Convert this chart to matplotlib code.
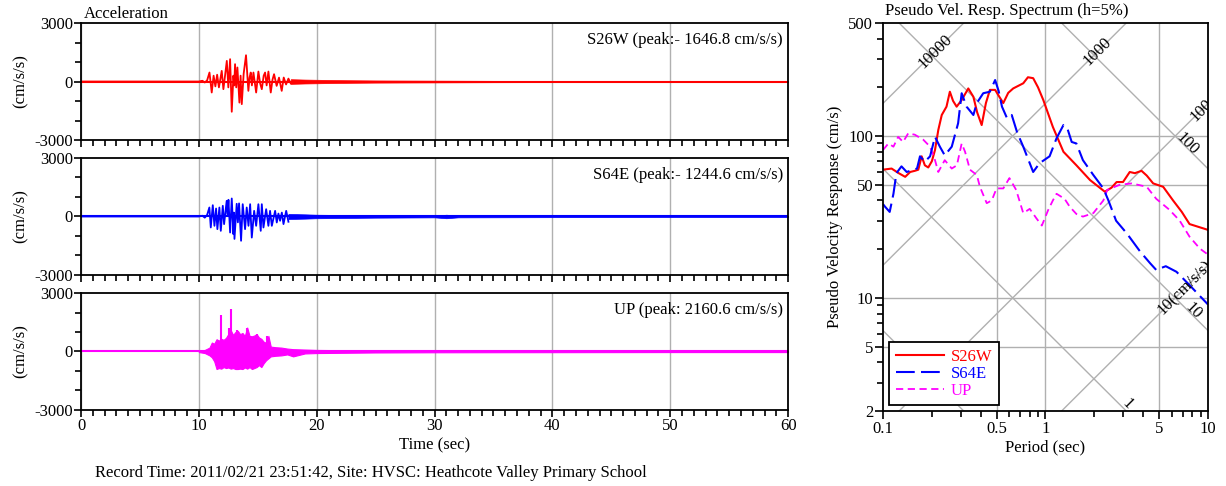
import numpy as np
import matplotlib.pyplot as plt
from matplotlib.ticker import FixedLocator, NullFormatter, LogLocator
from matplotlib.lines import Line2D

plt.rcParams['font.family'] = ['Liberation Serif', 'DejaVu Serif']
plt.rcParams['font.size'] = 12
plt.rcParams['axes.unicode_minus'] = False

# acceleration traces: oscillation peaks (sec, cm/s/s)
s26w_t = [0, 10.0, 10.3, 10.5, 10.7, 10.9, 11.09, 11.25, 11.4, 11.55, 11.7, 11.94, 12.08, 12.2,
          12.37, 12.5, 12.65, 12.79, 12.93, 13.0, 13.07, 13.17, 13.27, 13.44, 13.54, 13.64, 13.8,
          14.0, 14.2, 14.3, 14.4, 14.5, 14.63, 14.86, 15.05, 15.2, 15.34, 15.5, 15.62, 15.75,
          15.9, 16.1, 16.25, 16.38, 16.6, 16.8, 17.03, 17.2, 17.4, 17.6, 17.8]
s26w_a = [0, 0, 40, -50, 60, 462, -564, 300, -250, 350, -300, 547, -393, 200,
          1060, -300, 1146, -1550, 300, -200, 890, -300, 720, -1080, 300, -1160, 400,
          1350, -479, 200, 462, -200, 462, -564, 513, -100, -393, 300, 462, -200,
          513, -564, 100, 376, -222, 200, -479, 205, -150, 150, -100]
s26w_coda_t = [17.8, 19, 20, 22, 25, 30, 35, 40, 50, 60]
s26w_coda_a = [120, 100, 90, 70, 55, 45, 35, 30, 25, 25]

s64e_t = [0, 10.0, 10.3, 10.5, 10.7, 10.89, 11.01, 11.18, 11.32, 11.46, 11.57, 11.74, 11.86, 12.03,
          12.14, 12.36, 12.44, 12.51, 12.65, 12.79, 12.93, 12.97, 13.02, 13.21, 13.31, 13.41,
          13.58, 13.72, 13.92, 14.06, 14.21, 14.35, 14.49, 14.69, 14.86, 15.05, 15.25, 15.34,
          15.48, 15.71, 15.9, 16.04, 16.19, 16.47, 16.61, 16.75, 16.89, 17.04, 17.18, 17.41, 17.6]
s64e_a = [0, 0, 40, -60, 80, 462, -564, 581, -479, 410, -650, 462, -735, 547,
          -393, 804, 100, 855, -821, 923, -906, 200, -1150, 650, -300, 670,
          -1245, 630, -650, 462, -479, 630, -1080, 290, -479, 630, -735, 630,
          -565, 375, -479, 290, -479, 290, -308, 150, -220, 200, -390, 290, -270]
s64e_coda_t = [17.6, 19, 20, 25, 30, 31, 32, 40, 50, 60]
s64e_coda_a = [130, 110, 90, 60, 45, 90, 45, 35, 30, 30]

# UP is dense high frequency: upper / lower envelope plus the largest spikes
up_t = [10.0, 10.5, 10.9, 11.1, 11.3, 11.5, 11.7, 11.9, 12.1, 12.3, 12.5, 12.7, 12.9, 13.1, 13.3,
        13.5, 13.7, 13.9, 14.1, 14.3, 14.5, 14.7, 14.9, 15.1, 15.3, 15.5, 15.7, 15.9, 16.1, 16.5,
        17.0, 17.5, 18.0, 19.0, 20.0, 25, 30, 40, 50, 60]
up_hi = [30, 80, 200, 460, 400, 630, 560, 650, 600, 700, 900, 1100, 850, 1000, 1060,
         890, 950, 800, 1230, 800, 780, 820, 890, 720, 650, 500, 450, 800, 250, 220,
         200, 150, 120, 100, 80, 50, 40, 35, 30, 30]
up_lo = [-30, -80, -200, -300, -500, -900, -850, -880, -800, -850, -820, -880, -850, -900, -900,
         -880, -900, -820, -880, -800, -900, -850, -800, -700, -800, -600, -450, -350, -250, -220,
         -200, -150, -250, -100, -80, -50, -40, -35, -30, -30]
up_spike_t = [11.89, 12.55, 12.71, 13.2, 14.12, 14.95, 15.82, 18.02]
up_spike_a = [1860, 1200, 2160.6, 1100, 1230, 900, 800, -270]

# pseudo velocity response spectra (period sec, cm/s)
s26w_T = [0.1, 0.113, 0.125, 0.137, 0.147, 0.157, 0.165, 0.173, 0.181, 0.19, 0.2, 0.209, 0.219,
          0.23, 0.246, 0.258, 0.27, 0.284, 0.305, 0.335, 0.36, 0.38, 0.405, 0.43, 0.455, 0.49,
          0.52, 0.55, 0.59, 0.633, 0.73, 0.78, 0.84, 0.9, 0.97, 1.11, 1.29, 1.55, 1.88, 2.32,
          2.55, 2.74, 3.0, 3.3, 3.55, 3.9, 4.2, 4.6, 5.3, 6.1, 6.9, 7.7, 9.8, 10]
s26w_v = [62, 63, 59, 56, 60, 61, 62, 75, 66, 64, 70, 82, 109,
          135, 152, 188, 165, 152, 167, 197, 175, 140, 117, 160, 193, 193,
          175, 160, 185, 197, 212, 231, 228, 200, 167, 114, 80, 66, 53.5, 45.3,
          48, 52, 52, 60, 59, 61, 57, 51, 48.6, 40, 34, 28.6, 26.5, 26.3]
s64e_T = [0.1, 0.103, 0.11, 0.116, 0.121, 0.13, 0.14, 0.154, 0.162, 0.169, 0.181, 0.195, 0.209,
          0.224, 0.24, 0.265, 0.29, 0.305, 0.327, 0.36, 0.378, 0.414, 0.455, 0.49, 0.515, 0.54,
          0.58, 0.62, 0.67, 0.73, 0.84, 0.92, 1.06, 1.17, 1.29, 1.37, 1.45, 1.55, 1.7, 1.97,
          2.27, 2.44, 2.72, 3.17, 3.83, 4.4, 4.8, 5.5, 6.4, 7.7, 9.8, 10]
s64e_v = [38, 36.6, 34, 44, 59, 65, 60, 62, 63, 75, 69.5, 75, 99,
          86, 76, 86, 120, 184, 152, 135, 160, 184, 188, 222, 190, 152,
          129, 135, 105, 86, 60, 68, 75, 97, 117, 110, 92, 90, 71, 57.5,
          47.5, 40, 30, 25, 19.3, 16.4, 14.9, 15.7, 14.5, 12, 9.3, 9.1]
up_T = [0.1, 0.108, 0.116, 0.124, 0.133, 0.143, 0.157, 0.177, 0.195, 0.209, 0.219, 0.24, 0.265,
        0.285, 0.305, 0.32, 0.343, 0.378, 0.395, 0.435, 0.467, 0.5, 0.55, 0.6, 0.66, 0.73,
        0.8, 0.88, 0.95, 1.04, 1.11, 1.17, 1.31, 1.41, 1.55, 1.7, 1.97, 2.27, 2.4, 2.86,
        3.4, 4.2, 4.8, 5.8, 6.7, 7.7, 8.9, 9.8, 10]
up_v = [82, 90, 86, 99, 92, 104, 102, 95, 86, 71, 60, 71, 63,
        66, 90, 80, 62, 57.5, 48.6, 38.5, 40, 47.5, 47.5, 55, 46.5, 33.4,
        35.5, 31, 28, 35, 40, 44, 41, 36.6, 33, 31.8, 33.4, 40, 46.5, 50,
        51, 48.6, 41, 35, 30, 23.9, 20.2, 18.8, 18.5]

RED, BLUE, MAG = '#ff0000', '#0000ff', '#ff00ff'
GRID = '#b0b0b0'

fig = plt.figure(figsize=(12.26, 4.86), dpi=100)
left, width, h = 0.0661, 0.5767, 0.2407
bottoms = [0.7119, 0.4342, 0.1564]
axs = [fig.add_axes([left, b, width, h]) for b in bottoms]

labels = ['S26W (peak:- 1646.8 cm/s/s)', 'S64E (peak:- 1244.6 cm/s/s)', 'UP (peak: 2160.6 cm/s/s)']

for i, ax in enumerate(axs):
    ax.set_xlim(0, 60)
    ax.set_ylim(-3000, 3000)
    ax.set_xticks(range(0, 61, 10))
    ax.xaxis.set_minor_locator(FixedLocator(range(0, 61)))
    ax.set_yticks([-3000, 0, 3000])
    ax.yaxis.set_minor_locator(FixedLocator([-2000, -1000, 1000, 2000]))
    ax.tick_params(which='major', direction='out', length=5, width=1.2, labelsize=12, pad=1)
    ax.tick_params(which='minor', direction='out', length=4, width=1.2)
    ax.grid(axis='x', color=GRID, lw=1)
    ax.set_axisbelow(True)
    for s in ax.spines.values():
        s.set_linewidth(1.3)
    ax.set_ylabel('(cm/s/s)', fontsize=12, labelpad=4)
    if i < 2:
        ax.set_xticklabels([])
    ax.text(0.993, 0.855, labels[i], transform=ax.transAxes, ha='right', va='center', fontsize=12)

# S26W
ax = axs[0]
ax.plot([0, 60], [0, 0], color=RED, lw=1.5)
ax.plot(s26w_t, s26w_a, color=RED, lw=1.3)
ax.fill_between(s26w_coda_t, -np.array(s26w_coda_a), s26w_coda_a, color=RED, lw=0.5)
ax.text(0.004, 1.01, 'Acceleration', transform=ax.transAxes, ha='left', va='bottom', fontsize=12)

# S64E
ax = axs[1]
ax.plot([0, 60], [0, 0], color=BLUE, lw=1.5)
ax.plot(s64e_t, s64e_a, color=BLUE, lw=1.3)
ax.fill_between(s64e_coda_t, -np.array(s64e_coda_a), s64e_coda_a, color=BLUE, lw=0.5)

# UP
ax = axs[2]
ax.plot([0, 60], [0, 0], color=MAG, lw=1.5)
ax.fill_between(up_t, up_lo, up_hi, color=MAG, lw=0.8)
ax.vlines(up_spike_t, 0, up_spike_a, color=MAG, lw=1.5)
ax.set_xlabel('Time (sec)', fontsize=12, labelpad=2)

fig.text(95 / 1226, 1 - 473 / 486, 'Record Time: 2011/02/21 23:51:42, Site: HVSC: Heathcote Valley Primary School',
         ha='left', va='center', fontsize=12)

# response spectrum
ax = fig.add_axes([0.7202, 0.1543, 0.2651, 0.7984])
ax.set_xscale('log')
ax.set_yscale('log')
ax.set_xlim(0.1, 10)
ax.set_ylim(2, 500)

for x in [0.5, 1, 5]:
    ax.axvline(x, color=GRID, lw=1, zorder=0)
for y in [5, 10, 50, 100]:
    ax.axhline(y, color=GRID, lw=1, zorder=0)

T = np.logspace(-1, 1, 50)
for A in [10, 100, 1000, 10000]:
    ax.plot(T, A * T / (2 * np.pi), color=GRID, lw=1, zorder=0)
for D in [0.1, 1, 10, 100]:
    ax.plot(T, 2 * np.pi * D / T, color=GRID, lw=1, zorder=0)

diag = [(0.209, 332, '10000', 45), (2.09, 332, '1000', 45), (9.1, 145, '100', 45),
        (7.4, 90, '100', -45), (7.2, 11.6, '10(cm/s/s)', 45), (8.1, 8.3, '10', -45),
        (3.2, 2.2, '1', -45)]
for x, y, s, r in diag:
    ax.text(x, y, s, rotation=r, ha='center', va='center', fontsize=12, clip_on=True,
            rotation_mode='anchor')

ax.plot(s26w_T, s26w_v, color=RED, lw=1.5)
ax.plot(up_T, up_v, color=MAG, lw=1.3, dashes=(4, 2.5))
ax.plot(s64e_T, s64e_v, color=BLUE, lw=1.5, dashes=(9, 3))

ax.set_xticks([0.1, 0.5, 1, 5, 10])
ax.set_xticklabels(['0.1', '0.5', '1', '5', '10'])
ax.set_yticks([2, 5, 10, 50, 100, 500])
ax.set_yticklabels(['2', '5', '10', '50', '100', '500'])
ax.xaxis.set_minor_locator(LogLocator(base=10, subs=np.arange(2, 10)))
ax.yaxis.set_minor_locator(LogLocator(base=10, subs=np.arange(2, 10)))
ax.xaxis.set_minor_formatter(NullFormatter())
ax.yaxis.set_minor_formatter(NullFormatter())
ax.tick_params(which='major', direction='out', length=6, width=1.2, labelsize=12, pad=1)
ax.tick_params(which='minor', direction='out', length=4, width=1.2)
for s in ax.spines.values():
    s.set_linewidth(1.3)
ax.set_xlabel('Period (sec)', fontsize=12, labelpad=2)
ax.set_ylabel('Pseudo Velocity Response (cm/s)', fontsize=12, labelpad=4)
ax.text(0.005, 1.01, 'Pseudo Vel. Resp. Spectrum (h=5%)', transform=ax.transAxes,
        ha='left', va='bottom', fontsize=12)

handles = [Line2D([], [], color=RED, lw=1.5),
           Line2D([], [], color=BLUE, lw=1.5, dashes=(9, 3)),
           Line2D([], [], color=MAG, lw=1.3, dashes=(4, 2.5))]
leg = ax.legend(handles, ['S26W', 'S64E', 'UP'], loc='lower left', bbox_to_anchor=(0.02, 0.015),
                borderaxespad=0, fancybox=False, edgecolor='black', framealpha=1,
                handlelength=2.9, labelspacing=0.05, borderpad=0.4, fontsize=12, handletextpad=0.4)
leg.get_frame().set_linewidth(1.3)
for txt, c in zip(leg.get_texts(), [RED, BLUE, MAG]):
    txt.set_color(c)

fig.savefig('out.png', dpi=100)
